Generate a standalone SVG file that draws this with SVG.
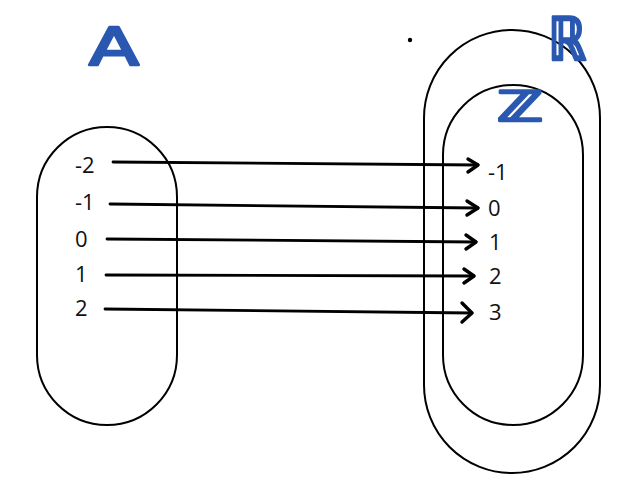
<svg xmlns="http://www.w3.org/2000/svg" width="637" height="490" viewBox="0 0 637 490">
<style>
.set{fill:none;stroke:#000;stroke-width:2}
.num{font-family:"Open Sans","Noto Sans",sans-serif;font-size:22px;fill:#111}
.hand{font-family:"DejaVu Sans",sans-serif;fill:#2a58b0;stroke:#2a58b0;stroke-width:2.5;stroke-linejoin:round}
.arr{fill:none;stroke:#000;stroke-width:2.8;stroke-linecap:round}
.head{fill:none;stroke:#000;stroke-width:3.4;stroke-linecap:round;stroke-linejoin:round}
</style>
<rect width="637" height="490" fill="#fff"/>
<g id="setA">
<rect class="set" x="37" y="127" width="140" height="298" rx="70" ry="70"/>
<text class="hand" x="89" y="65" font-size="52" textLength="50" lengthAdjust="spacingAndGlyphs">A</text>
<text class="num" x="75" y="173">-2</text>
<text class="num" x="75" y="210">-1</text>
<text class="num" x="75" y="247">0</text>
<text class="num" x="75" y="282">1</text>
<text class="num" x="75" y="316">2</text>
</g>
<g id="setR">
<rect class="set" x="424" y="30" width="176" height="443" rx="88" ry="88"/>
<text class="hand" x="548" y="60" font-size="60" font-weight="bold" textLength="38" lengthAdjust="spacingAndGlyphs">ℝ</text>
</g>
<g id="setZ">
<rect class="set" x="443" y="85" width="140" height="340" rx="70" ry="70"/>
<text class="hand" x="497" y="121" font-size="42" font-weight="bold" textLength="46" lengthAdjust="spacingAndGlyphs">ℤ</text>
<text class="num" x="488" y="180">-1</text>
<text class="num" x="488" y="216">0</text>
<text class="num" x="489" y="250">1</text>
<text class="num" x="489" y="284">2</text>
<text class="num" x="489" y="320">3</text>
</g>
<circle cx="410" cy="40" r="2.2" fill="#000"/>
<g id="connectors">
<path class="arr" d="M113 162 L478 165"/>
<path class="head" d="M468 159 L478 165 L468 172"/>
<path class="arr" d="M110 204 L478 208"/>
<path class="head" d="M467 201 L478 208 L467 215"/>
<path class="arr" d="M107 239 L476 242"/>
<path class="head" d="M466 235 L476 242 L466 249"/>
<path class="arr" d="M106 275 L474 276"/>
<path class="head" d="M464 269 L474 276 L464 283"/>
<path class="arr" d="M105 309 L472 313"/>
<path class="head" d="M462 303 L472 313 L462 322"/>
</g>
</svg>
